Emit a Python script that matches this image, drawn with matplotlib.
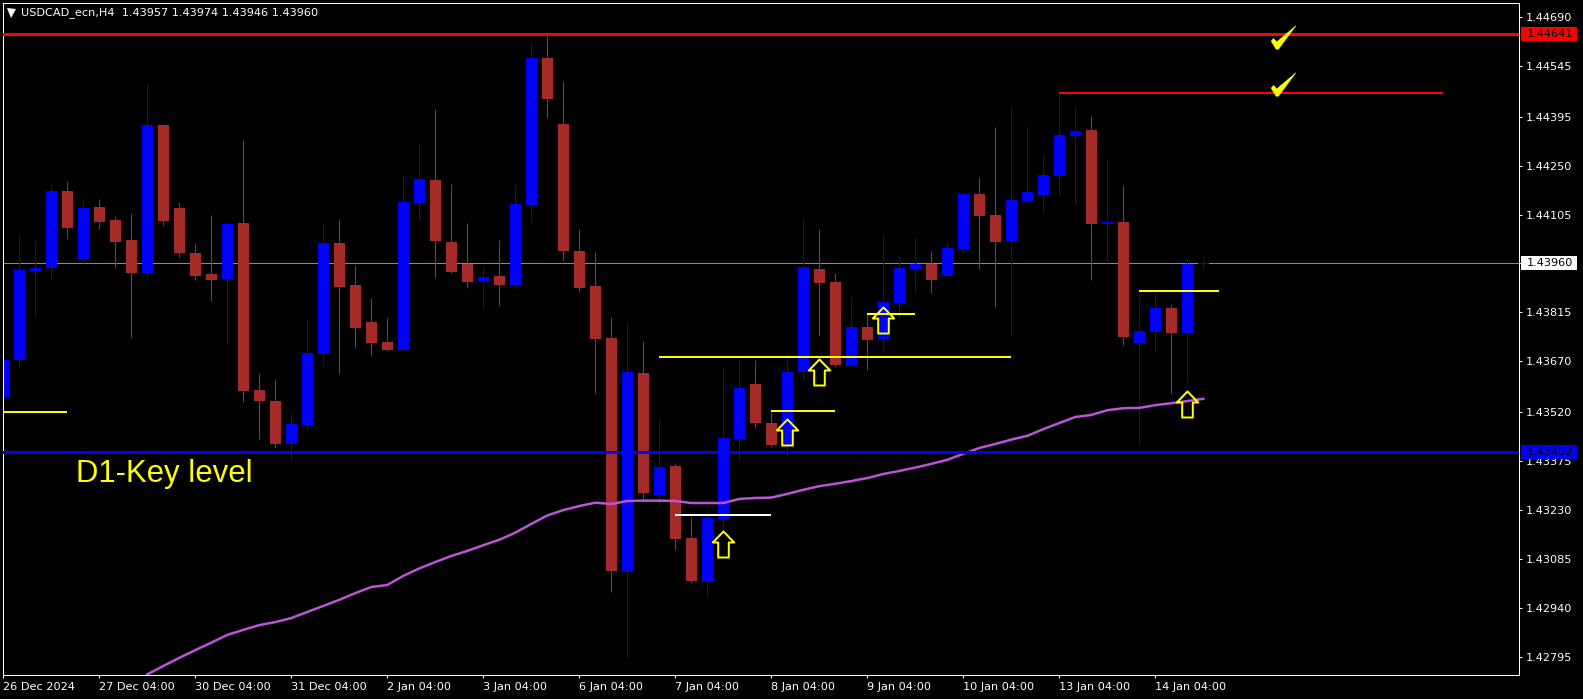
import matplotlib
matplotlib.use("Agg")
import matplotlib.pyplot as plt
from matplotlib.path import Path
from matplotlib.patches import Rectangle

# ---- data ----
OPEN = [1.43564,1.43674,1.43937,1.43946,1.44174,1.43970,1.44127,1.44089,1.44029,1.43931,
        1.44370,1.44124,1.43991,1.43928,1.43914,1.44080,1.43585,1.43552,1.43425,1.43481,
        1.43691,1.44020,1.43896,1.43786,1.43727,1.43703,1.44139,1.44207,1.44023,1.43958,
        1.43908,1.43923,1.43896,1.44133,1.44569,1.44373,1.43997,1.43893,1.43739,1.43045,
        1.43635,1.43274,1.43360,1.43146,1.43016,1.43202,1.43440,1.43603,1.43487,1.43422,
        1.43638,1.43943,1.43905,1.43656,1.43771,1.43736,1.43843,1.43943,1.43958,1.43923,
        1.44003,1.44166,1.44103,1.44026,1.44145,1.44163,1.44219,1.44337,1.44355,1.44077,
        1.44083,1.43724,1.43757,1.43828,1.43754,1.43957]
HIGH = [1.43674,1.44044,1.44026,1.44195,1.44201,1.44154,1.44151,1.44100,1.44109,1.44492,
        1.44373,1.44142,1.44017,1.44103,1.44080,1.44326,1.43632,1.43617,1.43517,1.43792,
        1.44080,1.44092,1.43955,1.43857,1.43798,1.44219,1.44314,1.44417,1.44195,1.44080,
        1.43946,1.44029,1.44192,1.44616,1.44634,1.44500,1.44062,1.43994,1.43801,1.43786,
        1.43730,1.43496,1.43369,1.43208,1.43229,1.43653,1.43680,1.43674,1.43520,1.43691,
        1.44094,1.44062,1.43931,1.43860,1.43810,1.44047,1.43985,1.44038,1.43997,1.44023,
        1.44174,1.44216,1.44364,1.44423,1.44367,1.44278,1.44465,1.44426,1.44397,1.44269,
        1.44192,1.43860,1.43872,1.43840,1.43976,1.43974]
LOW  = [1.43496,1.43653,1.43801,1.43911,1.44032,1.43961,1.44062,1.43949,1.43742,1.43911,
        1.44074,1.43979,1.43911,1.43848,1.43721,1.43549,1.43440,1.43413,1.43374,1.43463,
        1.43656,1.43632,1.43712,1.43686,1.43700,1.43703,1.44092,1.43917,1.43931,1.43887,
        1.43825,1.43837,1.43884,1.44083,1.44391,1.43967,1.43875,1.43576,1.42986,1.42791,
        1.43259,1.43241,1.43111,1.43013,1.42971,1.43170,1.43374,1.43472,1.43416,1.43386,
        1.43617,1.43745,1.43653,1.43656,1.43644,1.43703,1.43798,1.43872,1.43872,1.43923,
        1.43991,1.43943,1.43831,1.43748,1.44139,1.44109,1.44163,1.44139,1.43911,1.43961,
        1.43718,1.43422,1.43700,1.43573,1.43609,1.43946]
CLOSE = [1.43674,1.43940,1.43946,1.44174,1.44065,1.44124,1.44083,1.44023,1.43931,1.44370,
         1.44086,1.43991,1.43923,1.43911,1.44077,1.43582,1.43552,1.43425,1.43484,1.43694,
         1.44020,1.43890,1.43768,1.43724,1.43703,1.44142,1.44210,1.44026,1.43934,1.43905,
         1.43920,1.43896,1.44136,1.44569,1.44447,1.43997,1.43887,1.43736,1.43048,1.43638,
         1.43280,1.43357,1.43143,1.43019,1.43205,1.43443,1.43591,1.43487,1.43422,1.43638,
         1.43949,1.43902,1.43659,1.43771,1.43733,1.43846,1.43946,1.43958,1.43911,1.44006,
         1.44166,1.44100,1.44023,1.44148,1.44171,1.44222,1.44340,1.44352,1.44077,1.44083,
         1.43742,1.43760,1.43828,1.43754,1.43958,1.43960]

MA_START = 9
MA = [1.42742,1.42767,1.42791,1.42814,1.42836,1.42859,1.42874,1.42888,1.42897,1.42909,
      1.42927,1.42945,1.42963,1.42983,1.43001,1.43007,1.43034,1.43056,1.43075,1.43093,
      1.43108,1.43125,1.43141,1.43162,1.43188,1.43213,1.43229,1.43241,1.43251,1.43247,
      1.43256,1.43257,1.43257,1.43256,1.43250,1.43250,1.43250,1.43262,1.43265,1.43266,
      1.43277,1.43289,1.43300,1.43307,1.43315,1.43324,1.43336,1.43345,1.43355,1.43366,
      1.43378,1.43396,1.43413,1.43425,1.43438,1.43449,1.43469,1.43487,1.43505,1.43511,
      1.43525,1.43531,1.43532,1.43540,1.43546,1.43552,1.43559]

RED_LEVEL = 1.44641
BLUE_LEVEL = 1.43402
LAST_PRICE = 1.43960

# (start candle, end candle, price)
YELLOW_SEGS = [(0, 4, 1.43520), (41, 63, 1.43684), (48, 52, 1.43523),
               (54, 57, 1.43810), (71, 76, 1.43878)]
WHITE_SEGS = [(42, 48, 1.43214)]
RED_SEGS = [(66, 90, 1.44466)]

ARROW_X = [45, 49, 51, 55, 74]
ARROW_Y = [1.43129, 1.43461, 1.43637, 1.43791, 1.43544]
CHECK_X = [80, 80]
CHECK_Y = [1.44631, 1.44492]

YTICKS = [1.44690,1.44545,1.44395,1.44250,1.44105,1.43960,1.43815,
          1.43670,1.43520,1.43375,1.43230,1.43085,1.42940,1.42795]
XTICK_POS = [0,6,12,18,24,30,36,42,48,54,60,66,72]
XTICK_LAB = ["26 Dec 2024","27 Dec 04:00","30 Dec 04:00","31 Dec 04:00","2 Jan 04:00",
             "3 Jan 04:00","6 Jan 04:00","7 Jan 04:00","8 Jan 04:00","9 Jan 04:00",
             "10 Jan 04:00","13 Jan 04:00","14 Jan 04:00"]
TITLE = "USDCAD_ecn,H4  1.43957 1.43974 1.43946 1.43960"
NOTE = "D1-Key level"

# ---- styling ----
W, H, PX = 1583, 699, 0.72
BULL, BEAR = "#0000FF", "#A52A2A"
FONT = "DejaVu Sans"

fig = plt.figure(figsize=(W/100, H/100), dpi=100, facecolor="black")
L, R, T, B = 2.7, 1519.0, 2.7, 675.3
ax = fig.add_axes([L/W, 1-B/H, (R-L)/W, (B-T)/H], facecolor="black")
ax.set_xlim((L-3.3)/16, (R-3.3)/16)
ax.set_ylim(1.427393, 1.447330)

for s in ax.spines.values():
    s.set_color("white"); s.set_linewidth(PX)

# last-price line lies behind the candles
ax.axhline(LAST_PRICE, color="#8A8A8A", lw=PX, zorder=1)

xs = list(range(len(OPEN)))
for i in xs:
    col = BULL if CLOSE[i] >= OPEN[i] else BEAR
    ax.vlines(i, LOW[i], HIGH[i], color=col, lw=PX, zorder=2)
    lo, hi = min(OPEN[i], CLOSE[i]), max(OPEN[i], CLOSE[i])
    ax.bar(i, hi-lo, bottom=lo, width=11/16, color=col, linewidth=0, zorder=2.1, antialiased=False)

ax.plot(range(MA_START, MA_START+len(MA)), MA, color="#BA55D3", lw=2.5*PX, zorder=3, clip_on=True)
ax.axhline(RED_LEVEL, color="#FF0000", lw=3*PX, zorder=3.5)
ax.axhline(BLUE_LEVEL, color="#0000FF", lw=3*PX, zorder=3.5)
for segs, col in ((YELLOW_SEGS, "#FFFF00"), (WHITE_SEGS, "#FFFFFF"), (RED_SEGS, "#FF0000")):
    for a, b, p in segs:
        ax.plot([a, b], [p, p], color=col, lw=2*PX, zorder=3.6, solid_capstyle="butt")

arrow = Path([(0,13),(10.7,2),(5.3,2),(5.3,-13),(-5.3,-13),(-5.3,2),(-10.7,2),(0,13)], closed=True)
ax.plot(ARROW_X, ARROW_Y, ls="none", marker=arrow, ms=26*PX, mfc="none", mec="#FFFF00", mew=2*PX, zorder=4)
check = Path([(-37,-11),(-30,-3),(-20,-13),(37,35),(-15,-35),(-22,-35),(-37,-11)], closed=True)
ax.plot(CHECK_X, CHECK_Y, ls="none", marker=check, ms=24.7*PX, mfc="#FFFF00", mec="#FFFF00", mew=0.5*PX, zorder=4)

ax.text((76-L)/(R-L), 1-(481.7-T)/(B-T), NOTE, transform=ax.transAxes, color="#FFFF00",
        fontsize=22.4, family="Liberation Sans", ha="left", va="baseline", zorder=5)

# axes and labels
ax.yaxis.tick_right()
ax.set_yticks(YTICKS)
ax.set_yticklabels([f"{v:.5f}" for v in YTICKS], family=FONT, fontsize=8.1, color="white")
ax.tick_params(axis="y", colors="white", length=3*PX, width=PX, pad=2.4)
ax.set_xticks(XTICK_POS)
ax.set_xticklabels(XTICK_LAB, family=FONT, fontsize=8.1, color="white", ha="left")
ax.tick_params(axis="x", colors="white", length=3*PX, width=PX, pad=2.6)

# price tags at the right edge
xb = (1521-L)/(R-L); wb = 56/(R-L); hb = 14*(1.447330-1.427393)/(B-T)
xt = (1526.7-L)/(R-L)
for p, bg in ((RED_LEVEL, "#FF0000"), (BLUE_LEVEL, "#0000FF"), (LAST_PRICE, "#FFFFFF")):
    ax.add_patch(Rectangle((xb, p-hb/2), wb, hb, transform=ax.get_yaxis_transform(), clip_on=False,
                           facecolor=bg, edgecolor="none", zorder=6))
    ax.text(xt, p, f"{p:.5f}", transform=ax.get_yaxis_transform(), color="black", family=FONT,
            fontsize=8.1, ha="left", va="center", zorder=7, clip_on=False)

ax.plot([(10.5-L)/(R-L)], [1-(12.5-T)/(B-T)], transform=ax.transAxes, marker="v", ms=9*PX, color="white",
        mew=0, ls="none", zorder=5)
ax.text((21-L)/(R-L), 1-(12.5-T)/(B-T), TITLE, transform=ax.transAxes, color="white", family=FONT,
        fontsize=8.1, ha="left", va="center", zorder=5)

fig.savefig("out.png", dpi=100, facecolor="black")
